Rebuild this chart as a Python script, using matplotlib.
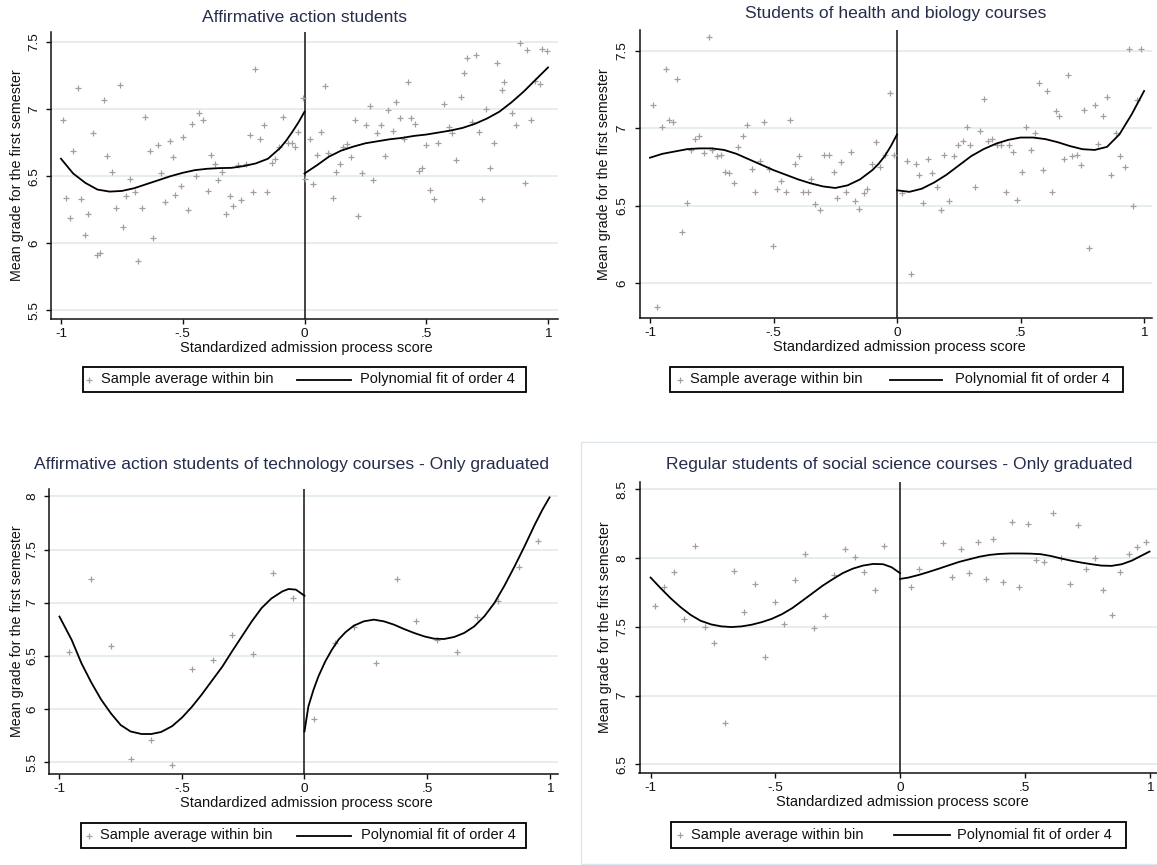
import matplotlib
matplotlib.use('Agg')
import matplotlib.pyplot as plt
from matplotlib.patches import Rectangle
from matplotlib.lines import Line2D

plt.rcParams['font.family'] = ['Liberation Sans', 'DejaVu Sans']

W, H = 1157, 865

# ---------------- data ----------------
titles = ["Affirmative action students",
          "Students of health and biology courses",
          "Affirmative action students of technology courses - Only graduated",
          "Regular students of social science courses - Only graduated"]
xlabel_text = "Standardized admission process score"
ylabel_text = "Mean grade for the first semester"
legend_labels = ["Sample average within bin", "Polynomial fit of order 4"]
xtick_vals = [-1, -0.5, 0, 0.5, 1]
xtick_labels = ["-1", "-.5", "0", ".5", "1"]
p1_yticks = [5.5, 6, 6.5, 7, 7.5]
p2_yticks = [6, 6.5, 7, 7.5]
p3_yticks = [5.5, 6, 6.5, 7, 7.5, 8]
p4_yticks = [6.5, 7, 7.5, 8, 8.5]

p1_bin_x = [-0.992, -0.980, -0.962, -0.950, -0.931, -0.919, -0.901, -0.889, -0.870, -0.852,
            -0.840, -0.824, -0.809, -0.791, -0.776, -0.759, -0.745, -0.731, -0.718, -0.698,
            -0.684, -0.666, -0.653, -0.635, -0.623, -0.603, -0.591, -0.573, -0.554, -0.540,
            -0.530, -0.508, -0.498, -0.478, -0.461, -0.447, -0.435, -0.417, -0.398, -0.385,
            -0.369, -0.356, -0.339, -0.324, -0.305, -0.293, -0.275, -0.260, -0.241, -0.223,
            -0.212, -0.202, -0.183, -0.165, -0.153, -0.134, -0.122, -0.104, -0.089, -0.069,
            -0.053, -0.038, -0.026, -0.008,
            0.003, 0.023, 0.035, 0.053, 0.066, 0.084, 0.096, 0.115, 0.130, 0.145,
            0.160, 0.176, 0.191, 0.206, 0.221, 0.238, 0.253, 0.269, 0.282, 0.298,
            0.313, 0.331, 0.344, 0.362, 0.376, 0.392, 0.408, 0.423, 0.437, 0.452,
            0.469, 0.484, 0.499, 0.515, 0.531, 0.550, 0.573, 0.592, 0.605, 0.623,
            0.641, 0.656, 0.669, 0.687, 0.705, 0.718, 0.730, 0.745, 0.760, 0.779,
            0.791, 0.809, 0.820, 0.852, 0.870, 0.885, 0.904, 0.913, 0.931, 0.947,
            0.969, 0.977, 0.995]
p1_bin_y = [6.92, 6.34, 6.19, 6.69, 7.16, 6.33, 6.06, 6.22, 6.82, 5.91,
            5.93, 7.07, 6.65, 6.53, 6.26, 7.18, 6.12, 6.35, 6.48, 6.38,
            5.87, 6.26, 6.94, 6.69, 6.04, 6.73, 6.52, 6.31, 6.76, 6.64,
            6.36, 6.43, 6.79, 6.25, 6.89, 6.50, 6.97, 6.92, 6.39, 6.66,
            6.59, 6.47, 6.53, 6.22, 6.35, 6.28, 6.58, 6.32, 6.59, 6.81,
            6.38, 7.30, 6.78, 6.88, 6.38, 6.60, 6.63, 6.72, 6.94, 6.75,
            6.75, 6.72, 6.83, 7.08,
            6.48, 6.78, 6.44, 6.66, 6.83, 7.17, 6.67, 6.34, 6.53, 6.59,
            6.72, 6.74, 6.64, 6.92, 6.20, 6.52, 6.88, 7.02, 6.47, 6.82,
            6.88, 6.65, 6.99, 6.84, 7.05, 6.93, 6.78, 7.20, 6.93, 6.89,
            6.54, 6.56, 6.73, 6.40, 6.33, 6.75, 7.04, 6.87, 6.82, 6.62,
            7.09, 7.27, 7.38, 6.90, 7.40, 6.83, 6.33, 7.00, 6.56, 6.75,
            7.34, 7.14, 7.20, 6.97, 6.88, 7.49, 6.45, 7.44, 6.92, 7.21,
            7.19, 7.45, 7.43]
p1_fitL_x = [-1.0, -0.95, -0.9, -0.85, -0.8, -0.75, -0.7, -0.65, -0.6, -0.55, -0.5, -0.45, -0.4,
             -0.35, -0.3, -0.25, -0.2, -0.15, -0.1, -0.075, -0.05, -0.025, 0.0]
p1_fitL_y = [6.63, 6.52, 6.45, 6.40, 6.385, 6.39, 6.41, 6.44, 6.47, 6.50, 6.525, 6.545, 6.555,
             6.56, 6.562, 6.575, 6.595, 6.63, 6.71, 6.765, 6.83, 6.90, 6.98]
p1_fitR_x = [0.0, 0.05, 0.1, 0.15, 0.2, 0.25, 0.3, 0.35, 0.4, 0.45, 0.5, 0.55, 0.6, 0.65, 0.7,
             0.75, 0.8, 0.85, 0.9, 0.95, 1.0]
p1_fitR_y = [6.52, 6.58, 6.645, 6.69, 6.72, 6.745, 6.76, 6.775, 6.785, 6.80, 6.81, 6.825, 6.84,
             6.86, 6.89, 6.93, 6.98, 7.05, 7.13, 7.22, 7.31]

p2_bin_x = [-0.988, -0.970, -0.950, -0.937, -0.922, -0.907, -0.889, -0.870, -0.851, -0.835,
            -0.818, -0.803, -0.781, -0.763, -0.749, -0.729, -0.711, -0.696, -0.681, -0.662,
            -0.644, -0.624, -0.606, -0.588, -0.573, -0.555, -0.538, -0.519, -0.504, -0.486,
            -0.471, -0.451, -0.433, -0.415, -0.398, -0.380, -0.362, -0.347, -0.332, -0.313,
            -0.295, -0.275, -0.257, -0.242, -0.226, -0.208, -0.188, -0.170, -0.152, -0.134,
            -0.122, -0.102, -0.085, -0.068, -0.050, -0.030, -0.012,
            0.020, 0.039, 0.057, 0.075, 0.089, 0.107, 0.125, 0.143, 0.161, 0.179,
            0.191, 0.209, 0.229, 0.247, 0.265, 0.283, 0.296, 0.316, 0.334, 0.352,
            0.368, 0.386, 0.405, 0.421, 0.439, 0.454, 0.469, 0.487, 0.507, 0.522,
            0.541, 0.559, 0.574, 0.589, 0.608, 0.627, 0.642, 0.657, 0.675, 0.693,
            0.710, 0.728, 0.743, 0.758, 0.779, 0.800, 0.815, 0.835, 0.848, 0.868,
            0.886, 0.902, 0.922, 0.937, 0.955, 0.973, 0.988]
p2_bin_y = [7.15, 5.85, 7.01, 7.38, 7.05, 7.04, 7.32, 6.33, 6.52, 6.86,
            6.93, 6.95, 6.84, 7.59, 6.86, 6.82, 6.83, 6.72, 6.71, 6.65,
            6.88, 6.95, 7.02, 6.74, 6.59, 6.79, 7.04, 6.74, 6.24, 6.61,
            6.66, 6.59, 7.05, 6.77, 6.82, 6.59, 6.59, 6.67, 6.51, 6.47,
            6.83, 6.83, 6.72, 6.55, 6.78, 6.59, 6.85, 6.53, 6.48, 6.58,
            6.61, 6.77, 6.91, 6.75, 6.83, 7.23, 6.83,
            6.58, 6.79, 6.06, 6.77, 6.70, 6.52, 6.80, 6.71, 6.62, 6.47,
            6.83, 6.53, 6.82, 6.89, 6.92, 7.01, 6.89, 6.62, 6.98, 7.19,
            6.92, 6.93, 6.89, 6.89, 6.59, 6.89, 6.85, 6.54, 6.72, 7.01,
            6.86, 6.97, 7.29, 6.73, 7.24, 6.59, 7.11, 7.08, 6.80, 7.34,
            6.82, 6.83, 6.76, 7.12, 6.23, 7.15, 6.90, 7.08, 7.20, 6.70,
            6.97, 6.82, 6.75, 7.51, 6.50, 7.18, 7.51]
p2_fitL_x = [-1.0, -0.95, -0.9, -0.85, -0.8, -0.75, -0.7, -0.65, -0.6, -0.55, -0.5, -0.45, -0.4,
             -0.35, -0.3, -0.25, -0.2, -0.15, -0.1, -0.075, -0.05, -0.025, 0.0]
p2_fitL_y = [6.81, 6.835, 6.85, 6.865, 6.87, 6.87, 6.86, 6.835, 6.80, 6.765, 6.73, 6.70, 6.67,
             6.645, 6.625, 6.615, 6.632, 6.67, 6.73, 6.77, 6.82, 6.885, 6.96]
p2_fitR_x = [0.0, 0.05, 0.1, 0.15, 0.2, 0.25, 0.3, 0.35, 0.4, 0.45, 0.5, 0.55, 0.6, 0.65, 0.7,
             0.75, 0.8, 0.85, 0.9, 0.95, 1.0]
p2_fitR_y = [6.60, 6.59, 6.61, 6.65, 6.70, 6.76, 6.82, 6.865, 6.90, 6.925, 6.94, 6.94, 6.93,
             6.91, 6.885, 6.865, 6.86, 6.88, 6.96, 7.09, 7.24]

p3_bin_x = [-0.959, -0.873, -0.791, -0.706, -0.627, -0.540, -0.460, -0.373, -0.295, -0.212, -0.128, -0.045,
            0.037, 0.123, 0.204, 0.290, 0.376, 0.456, 0.541, 0.622, 0.706, 0.790, 0.874, 0.954]
p3_bin_y = [6.54, 7.22, 6.59, 5.53, 5.71, 5.47, 6.38, 6.46, 6.70, 6.52, 7.28, 7.04,
            5.91, 6.62, 6.77, 6.43, 7.22, 6.83, 6.65, 6.54, 6.87, 7.02, 7.34, 7.58]
p3_fitL_x = [-1.0, -0.95, -0.91, -0.87, -0.83, -0.79, -0.75, -0.71, -0.665, -0.625, -0.585, -0.54,
             -0.5, -0.46, -0.42, -0.38, -0.335, -0.295, -0.255, -0.215, -0.175, -0.135, -0.09,
             -0.065, -0.035, 0.0]
p3_fitL_y = [6.87, 6.65, 6.43, 6.25, 6.09, 5.96, 5.85, 5.79, 5.766, 5.766, 5.785, 5.84,
             5.92, 6.02, 6.135, 6.26, 6.40, 6.545, 6.685, 6.825, 6.95, 7.04, 7.107,
             7.129, 7.123, 7.066]
p3_fitR_x = [0.0, 0.016, 0.037, 0.057, 0.085, 0.112, 0.139, 0.167, 0.201, 0.242, 0.283, 0.324,
             0.365, 0.406, 0.447, 0.488, 0.529, 0.57, 0.611, 0.652, 0.693, 0.734, 0.775, 0.816,
             0.857, 0.898, 0.939, 0.97, 1.0]
p3_fitR_y = [5.79, 6.026, 6.183, 6.308, 6.449, 6.559, 6.653, 6.722, 6.784, 6.825, 6.841, 6.825,
             6.794, 6.753, 6.716, 6.684, 6.662, 6.659, 6.678, 6.716, 6.778, 6.872, 6.997, 7.16,
             7.34, 7.53, 7.73, 7.87, 7.99]

p4_bin_x = [-0.984, -0.946, -0.905, -0.865, -0.824, -0.781, -0.746, -0.703, -0.666, -0.624,
            -0.581, -0.543, -0.503, -0.465, -0.423, -0.381, -0.343, -0.301, -0.264, -0.222,
            -0.181, -0.143, -0.100, -0.065,
            0.043, 0.075, 0.172, 0.208, 0.246, 0.275, 0.311, 0.343, 0.373, 0.411,
            0.448, 0.478, 0.513, 0.544, 0.579, 0.612, 0.645, 0.680, 0.715, 0.746, 0.783,
            0.813, 0.848, 0.882, 0.916, 0.948, 0.984]
p4_bin_y = [7.65, 7.79, 7.90, 7.56, 8.09, 7.50, 7.38, 6.80, 7.91, 7.61,
            7.81, 7.28, 7.68, 7.52, 7.84, 8.03, 7.49, 7.58, 7.88, 8.07,
            8.01, 7.90, 7.77, 8.09,
            7.79, 7.92, 8.11, 7.86, 8.07, 7.89, 8.12, 7.85, 8.14, 7.83,
            8.26, 7.79, 8.25, 7.99, 7.97, 8.33, 8.00, 7.81, 8.24, 7.92, 8.00,
            7.77, 7.59, 7.90, 8.03, 8.08, 8.12]
p4_fitL_x = [-1.0, -0.96, -0.92, -0.88, -0.84, -0.8, -0.757, -0.716, -0.676, -0.635, -0.595,
             -0.554, -0.514, -0.473, -0.432, -0.392, -0.351, -0.311, -0.27, -0.23, -0.189, -0.149,
             -0.108, -0.068, -0.034, 0.0]
p4_fitL_y = [7.859, 7.782, 7.709, 7.644, 7.588, 7.545, 7.518, 7.504, 7.499, 7.504, 7.516,
             7.535, 7.559, 7.593, 7.637, 7.69, 7.745, 7.799, 7.847, 7.891, 7.924, 7.946,
             7.958, 7.956, 7.934, 7.891]
p4_fitR_x = [0.0, 0.034, 0.075, 0.115, 0.156, 0.197, 0.237, 0.278, 0.319, 0.36, 0.4, 0.441,
             0.482, 0.522, 0.563, 0.604, 0.645, 0.685, 0.726, 0.767, 0.807, 0.848, 0.889, 0.929,
             0.963, 1.0]
p4_fitR_y = [7.849, 7.859, 7.878, 7.90, 7.924, 7.949, 7.973, 7.992, 8.011, 8.024, 8.031, 8.034,
             8.034, 8.033, 8.029, 8.016, 7.998, 7.982, 7.968, 7.956, 7.946, 7.944, 7.956, 7.982,
             8.014, 8.048]

# ---------------- layout (pixels) ----------------
panels = [
    dict(box=(51, 558, 32, 319), xlim=(-1.041, 1.041), ylim=(5.436, 7.574), yticks=p1_yticks,
         bx=p1_bin_x, by=p1_bin_y, lx=p1_fitL_x, ly=p1_fitL_y, rx=p1_fitR_x, ry=p1_fitR_y,
         title_xy=(305, 18), xlab_xy=(306, 348), ylab_x=17,
         leg=(82.5, 526, 367, 392), leg_m=89, leg_t1=101, leg_l=(297, 351), leg_t2=360),
    dict(box=(639.5, 1152, 30, 318), xlim=(-1.0425, 1.032), ylim=(5.777, 7.633), yticks=p2_yticks,
         bx=p2_bin_x, by=p2_bin_y, lx=p2_fitL_x, ly=p2_fitL_y, rx=p2_fitR_x, ry=p2_fitR_y,
         title_xy=(896, 13.5), xlab_xy=(899, 347), ylab_x=604,
         leg=(670, 1123, 367, 392), leg_m=679.5, leg_t1=690, leg_l=(890, 942), leg_t2=955),
    dict(box=(49.4, 557.6, 489, 774), xlim=(-1.041, 1.033), ylim=(5.39, 8.069), yticks=p3_yticks,
         bx=p3_bin_x, by=p3_bin_y, lx=p3_fitL_x, ly=p3_fitL_y, rx=p3_fitR_x, ry=p3_fitR_y,
         title_xy=(292, 465), xlab_xy=(306.5, 803), ylab_x=17,
         leg=(81, 526, 823, 848), leg_m=89, leg_t1=100, leg_l=(297, 351), leg_t2=361),
    dict(box=(639.5, 1157, 481.7, 772.7), xlim=(-1.0445, 1.03), ylim=(6.44, 8.556), yticks=p4_yticks,
         bx=p4_bin_x, by=p4_bin_y, lx=p4_fitL_x, ly=p4_fitL_y, rx=p4_fitR_x, ry=p4_fitR_y,
         title_xy=(899, 465), xlab_xy=(902, 802), ylab_x=605,
         leg=(671, 1126, 822, 848), leg_m=680, leg_t1=691, leg_l=(894, 950), leg_t2=957),
]

TITLE_C = '#272c4c'
GRID_C = '#e4ecef'
PT_C = '#a0a0a0'


def fx(px):
    return px / W


def fy(py):
    return 1 - py / H


fig = plt.figure(figsize=(W / 100, H / 100), dpi=100)
fig.patch.set_facecolor('white')

# faint frame around the last panel
fig.patches.append(Rectangle((fx(581), fy(864)), fx(1157) - fx(581) + 0.01, fy(442) - fy(864),
                             transform=fig.transFigure, fill=False, edgecolor='#dde6ee', lw=1.0))

for i, p in enumerate(panels):
    l, r, t, b = p['box']
    ax = fig.add_axes([fx(l), fy(b), fx(r) - fx(l), fy(t) - fy(b)])
    ax.set_xlim(*p['xlim'])
    ax.set_ylim(*p['ylim'])
    for s in ('top', 'right'):
        ax.spines[s].set_visible(False)
    for s in ('left', 'bottom'):
        ax.spines[s].set_linewidth(1.1)
        ax.spines[s].set_color('#111111')
    ax.set_xticks(xtick_vals)
    ax.set_xticklabels(xtick_labels)
    ax.set_yticks(p['yticks'])
    ax.set_yticklabels([f"{v:g}" for v in p['yticks']])
    ax.tick_params(axis='both', direction='out', length=3.8, width=1.0, labelsize=9.7, colors='#111111')
    ax.tick_params(axis='x', pad=3.0)
    ax.tick_params(axis='y', pad=4.0, labelrotation=90)
    for lab in ax.get_yticklabels():
        lab.set_va('center')
    ax.grid(axis='y', color=GRID_C, lw=1.3)
    ax.grid(axis='x', visible=False)
    ax.set_axisbelow(True)
    ax.axvline(0, color='#111111', lw=1.1, zorder=2)
    ax.plot(p['bx'], p['by'], ls='none', marker='+', ms=4.5, mew=0.9, color=PT_C, zorder=3)
    ax.plot(p['lx'], p['ly'], color='black', lw=1.3, zorder=4, solid_joinstyle='round')
    ax.plot(p['rx'], p['ry'], color='black', lw=1.3, zorder=4, solid_joinstyle='round')

    # titles / axis labels
    fig.text(fx(p['title_xy'][0]), fy(p['title_xy'][1]), titles[i], ha='center', va='center',
             fontsize=12.6, color=TITLE_C)
    fig.text(fx(p['xlab_xy'][0]), fy(p['xlab_xy'][1]), xlabel_text, ha='center', va='center',
             fontsize=10.5, color='#111111')
    fig.text(fx(p['ylab_x']), fy((t + b) / 2), ylabel_text, ha='center', va='center',
             rotation=90, fontsize=10.3, color='#111111')

    # legend box
    ll, lr, lt, lb = p['leg']
    fig.patches.append(Rectangle((fx(ll), fy(lb)), fx(lr) - fx(ll), fy(lt) - fy(lb),
                                 transform=fig.transFigure, fill=False, edgecolor='black', lw=1.3))
    ym = (lt + lb) / 2
    fig.lines.append(Line2D([fx(p['leg_m'])], [fy(ym)], transform=fig.transFigure, ls='none',
                            marker='+', ms=4.5, mew=0.9, color=PT_C))
    fig.text(fx(p['leg_t1']), fy(ym), legend_labels[0], ha='left', va='center', fontsize=10.5,
             color='#111111')
    fig.lines.append(Line2D([fx(p['leg_l'][0]), fx(p['leg_l'][1])], [fy(ym), fy(ym)],
                            transform=fig.transFigure, color='black', lw=1.3))
    fig.text(fx(p['leg_t2']), fy(ym), legend_labels[1], ha='left', va='center', fontsize=10.5,
             color='#111111')

fig.savefig('out.png', dpi=100, facecolor='white')
